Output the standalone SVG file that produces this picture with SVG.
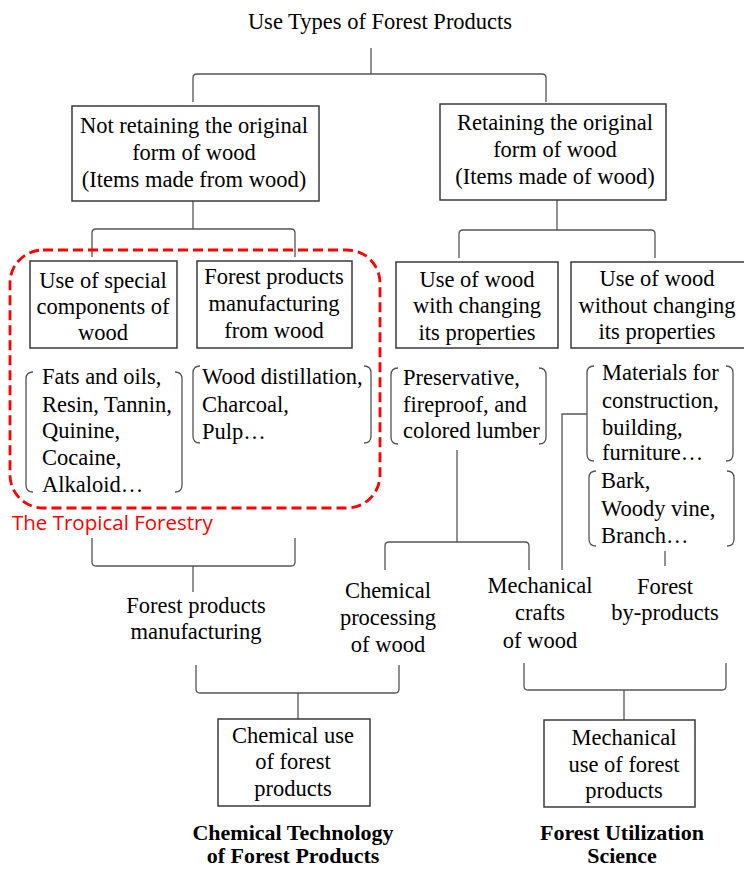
<svg xmlns="http://www.w3.org/2000/svg" width="744" height="869" viewBox="0 0 744 869">
<style>
text{font-family:"Liberation Serif","Times New Roman",serif;font-size:22.5px;fill:#000}
.c{text-anchor:middle}
.b{font-weight:bold;font-size:22px}
.box{fill:#fff;stroke:#3a3a3a;stroke-width:1.5}
.br{fill:none;stroke:#555;stroke-width:1.3}
.ln{fill:none;stroke:#555;stroke-width:1.3}
.red{font-family:"Open Sans","Noto Sans",sans-serif;font-size:20.5px;fill:#ff0000}
</style>
<rect width="744" height="869" fill="#fff"/>
<g id="connectors">
<path class="ln" d="M371,48V74"/>
<path class="ln" d="M193,102V78Q193,74 197,74H542Q546,74 546,78V102"/>
<path class="ln" d="M193,201V229"/>
<path class="ln" d="M92,257V233Q92,229 96,229H291Q295,229 295,233V257"/>
<path class="ln" d="M557,200V230"/>
<path class="ln" d="M459,258V234Q459,230 463,230H651Q655,230 655,234V258"/>
<path class="ln" d="M92,538V562Q92,566 96,566H291Q295,566 295,562V538"/>
<path class="ln" d="M193,566V592"/>
<path class="ln" d="M457,450V542"/>
<path class="ln" d="M385,570V546Q385,542 389,542H525Q529,542 529,546V570"/>
<path class="ln" d="M587,414H562V570"/>
<path class="ln" d="M665,551V566"/>
<path class="ln" d="M196,665V689Q196,693 200,693H395Q399,693 399,689V665"/>
<path class="ln" d="M298,693V719"/>
<path class="ln" d="M524,663V686Q524,690 528,690H722Q726,690 726,686V663"/>
<path class="ln" d="M624,690V720"/>
</g>
<g id="title"><text class="c" x="380" y="29">Use Types of Forest Products</text></g>
<g id="n-not-retaining">
<rect class="box" x="72" y="106" width="247" height="95"/>
<text class="c" x="194" y="133">Not retaining the original</text>
<text class="c" x="194" y="160">form of wood</text>
<text class="c" x="194" y="187">(Items made from wood)</text>
</g>
<g id="n-retaining">
<rect class="box" x="440" y="104" width="226" height="96"/>
<text class="c" x="555" y="130">Retaining the original</text>
<text class="c" x="555" y="157">form of wood</text>
<text class="c" x="555" y="184">(Items made of wood)</text>
</g>
<g id="tropical">
<rect x="10" y="250" width="370" height="258" rx="33" fill="none" stroke="#ff0000" stroke-width="2.8" stroke-dasharray="10 5"/>
<text class="red" x="12" y="530">The Tropical Forestry</text>
</g>
<g id="n-special">
<rect class="box" x="30" y="261" width="147" height="87"/>
<text class="c" x="103" y="288">Use of special</text>
<text class="c" x="103" y="314">components of</text>
<text class="c" x="103" y="340">wood</text>
</g>
<g id="n-fp-manuf-wood">
<rect class="box" x="197" y="261" width="155" height="87"/>
<text class="c" x="274" y="284">Forest products</text>
<text class="c" x="274" y="311">manufacturing</text>
<text class="c" x="274" y="338">from wood</text>
</g>
<g id="n-changing">
<rect class="box" x="396" y="262" width="162" height="86"/>
<text class="c" x="477" y="287">Use of wood</text>
<text class="c" x="477" y="313">with changing</text>
<text class="c" x="477" y="340">its properties</text>
</g>
<g id="n-without">
<rect class="box" x="571" y="262" width="176" height="86"/>
<text class="c" x="657" y="286">Use of wood</text>
<text class="c" x="657" y="313">without changing</text>
<text class="c" x="657" y="339">its properties</text>
</g>
<g id="n-fats">
<path class="br" d="M33,372Q26,372 26,379V485Q26,492 33,492M175,372Q182,372 182,379V485Q182,492 175,492"/>
<text x="42" y="384">Fats and oils,</text>
<text x="42" y="412">Resin, Tannin,</text>
<text x="42" y="438">Quinine,</text>
<text x="42" y="465">Cocaine,</text>
<text x="42" y="492">Alkaloid…</text>
</g>
<g id="n-distillation">
<path class="br" d="M200,366Q193,366 193,373V436Q193,443 200,443M364,366Q371,366 371,373V436Q371,443 364,443"/>
<text x="202" y="384">Wood distillation,</text>
<text x="202" y="412">Charcoal,</text>
<text x="202" y="439">Pulp…</text>
</g>
<g id="n-preservative">
<path class="br" d="M398,368Q391,368 391,375V437Q391,444 398,444M539,368Q546,368 546,375V437Q546,444 539,444"/>
<text x="403" y="385">Preservative,</text>
<text x="403" y="412">fireproof, and</text>
<text x="403" y="438">colored lumber</text>
</g>
<g id="n-materials">
<path class="br" d="M594,366Q587,366 587,373V454Q587,461 594,461M726,366Q733,366 733,373V454Q733,461 726,461"/>
<text x="602" y="380">Materials for</text>
<text x="602" y="408">construction,</text>
<text x="602" y="435">building,</text>
<text x="602" y="460">furniture…</text>
</g>
<g id="n-bark">
<path class="br" d="M596,471Q589,471 589,478V539Q589,546 596,546M727,471Q734,471 734,478V539Q734,546 727,546"/>
<text x="601" y="488">Bark,</text>
<text x="601" y="516">Woody vine,</text>
<text x="601" y="543">Branch…</text>
</g>
<g id="n-fp-manufacturing">
<text class="c" x="196" y="613">Forest products</text>
<text class="c" x="196" y="639">manufacturing</text>
</g>
<g id="n-chem-processing">
<text class="c" x="388" y="598">Chemical</text>
<text class="c" x="388" y="625">processing</text>
<text class="c" x="388" y="652">of wood</text>
</g>
<g id="n-mech-crafts">
<text class="c" x="540" y="593">Mechanical</text>
<text class="c" x="540" y="620">crafts</text>
<text class="c" x="540" y="648">of wood</text>
</g>
<g id="n-byproducts">
<text class="c" x="665" y="594">Forest</text>
<text class="c" x="665" y="620">by-products</text>
</g>
<g id="n-chem-use">
<rect class="box" x="218" y="719" width="152" height="87"/>
<text class="c" x="293" y="743">Chemical use</text>
<text class="c" x="293" y="769">of forest</text>
<text class="c" x="293" y="796">products</text>
</g>
<g id="n-mech-use">
<rect class="box" x="544" y="720" width="151" height="87"/>
<text class="c" x="624" y="745">Mechanical</text>
<text class="c" x="624" y="772">use of forest</text>
<text class="c" x="624" y="798">products</text>
</g>
<g id="cap-chem">
<text class="c b" x="293" y="840">Chemical Technology</text>
<text class="c b" x="293" y="863">of Forest Products</text>
</g>
<g id="cap-forest">
<text class="c b" x="622" y="840">Forest Utilization</text>
<text class="c b" x="622" y="863">Science</text>
</g>
</svg>
